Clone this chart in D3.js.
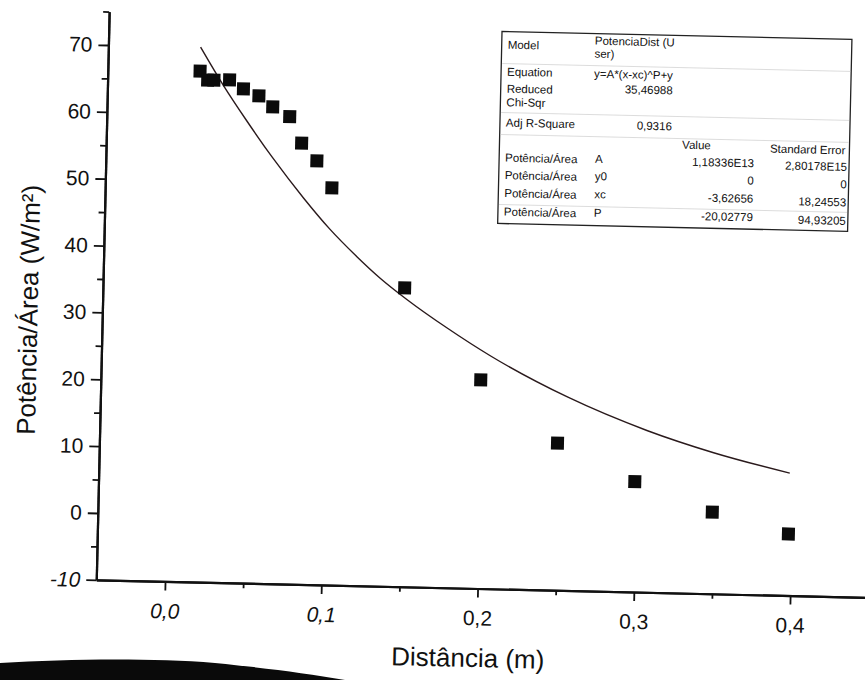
<!DOCTYPE html>
<html>
<head>
<meta charset="utf-8">
<script src="https://cdn.jsdelivr.net/npm/d3@7"></script>
<style>
  body { margin: 0; background: #fff; }
  svg { font-family: "Liberation Sans", Arial, sans-serif; }
</style>
</head>
<body>
<div id="chart"></div>
<script>
'use strict'

// measured points (distance in m, power/area in W/m2)
var distancia = [0.015, 0.020, 0.024, 0.034, 0.043, 0.053, 0.062, 0.073, 0.081, 0.091, 0.101, 0.149, 0.199, 0.249, 0.299, 0.349, 0.398];
var potencia = [66.4, 65.1, 65.1, 65.2, 63.9, 62.9, 61.3, 59.9, 56.0, 53.4, 49.4, 34.7, 21.2, 12.0, 6.5, 2.2, -0.8];

// fitted curve
var fitX = [0.015, 0.030, 0.046, 0.063, 0.083, 0.100, 0.118, 0.133, 0.151, 0.177, 0.205, 0.255, 0.306, 0.349, 0.398];
var fitY = [70.0, 64.4, 59.0, 53.6, 47.8, 43.3, 39.2, 36.1, 32.9, 28.8, 24.8, 18.9, 14.2, 11.1, 8.3];

var xTicks = [0.0, 0.1, 0.2, 0.3, 0.4];
var xTickLabels = ['0,0', '0,1', '0,2', '0,3', '0,4'];
var xMinor = [0.05, 0.15, 0.25, 0.35, 0.45];
var yTicks = [-10, 0, 10, 20, 30, 40, 50, 60, 70];
var yMinor = [-5, 5, 15, 25, 35, 45, 55, 65, 75];

// fit report box
var modelText = ['PotenciaDist (U', 'ser)'];
var equationText = 'y=A*(x-xc)^P+y';
var chiSqr = '35,46988';
var adjR2 = '0,9316';
var paramSeries = 'Potência/Área';
var paramNames = ['A', 'y0', 'xc', 'P'];
var paramValues = ['1,18336E13', '0', '-3,62656', '-20,02779'];
var paramErrors = ['2,80178E15', '0', '18,24553', '94,93205'];

var FONT = '"Liberation Sans", Arial, sans-serif';
var WIDTH = 865, HEIGHT = 680;

var svg = d3.select('#chart').append('svg')
  .attr('width', WIDTH).attr('height', HEIGHT);

svg.append('rect').attr('width', WIDTH).attr('height', HEIGHT).attr('fill', '#fff');

// the photographed sheet sits slightly rotated
var g = svg.append('g').attr('transform', 'rotate(1.3,432,340)');

var x = d3.scaleLinear().domain([-0.044, 0.45]).range([101.8, 874]);
var y = d3.scaleLinear().domain([-10, 75]).range([587.4, 19]);

// AXES
var xAxis = g.append('g')
  .attr('transform', 'translate(0,' + y(-10) + ')')
  .call(d3.axisBottom(x).tickValues(xTicks).tickSize(9).tickSizeOuter(0).tickPadding(13)
    .tickFormat(function (d, i) { return xTickLabels[i]; }));
g.append('g')
  .attr('transform', 'translate(0,' + y(-10) + ')')
  .call(d3.axisBottom(x).tickValues(xMinor).tickSize(5).tickSizeOuter(0).tickFormat(''));

var yAxis = g.append('g')
  .attr('transform', 'translate(' + x(-0.044) + ',0)')
  .call(d3.axisLeft(y).tickValues(yTicks).tickSize(10).tickSizeOuter(0).tickPadding(6)
    .tickFormat(function (d) { return String(d); }));
g.append('g')
  .attr('transform', 'translate(' + x(-0.044) + ',0)')
  .call(d3.axisLeft(y).tickValues(yMinor).tickSize(6).tickSizeOuter(0).tickFormat(''));

g.selectAll('.domain').attr('stroke', '#111').attr('stroke-width', 2.2);
g.selectAll('.tick line').attr('stroke', '#111').attr('stroke-width', 1.8);

xAxis.attr('font-family', FONT).selectAll('text')
  .attr('font-size', '21px').attr('fill', '#111')
  .style('font-style', function (d) { return d < 0.15 ? 'italic' : 'normal'; });
yAxis.attr('font-family', FONT).selectAll('text')
  .attr('font-size', '21px').attr('fill', '#111')
  .style('font-style', function (d) { return d < 0 ? 'italic' : 'normal'; });

// axis titles
g.append('text')
  .attr('x', 475).attr('y', 666)
  .attr('text-anchor', 'middle')
  .attr('font-size', '26px').attr('fill', '#111')
  .text('Distância (m)');

g.append('text')
  .attr('transform', 'translate(37,319) rotate(-90)')
  .attr('text-anchor', 'middle')
  .attr('font-size', '26px').attr('fill', '#111')
  .text('Potência/Área (W/m²)');

// FIT CURVE
var fitData = fitX.map(function (d, i) { return { x: d, y: fitY[i] }; });
g.append('path')
  .datum(fitData)
  .attr('d', d3.line()
    .x(function (d) { return x(d.x); })
    .y(function (d) { return y(d.y); })
    .curve(d3.curveMonotoneX))
  .attr('fill', 'none')
  .attr('stroke', '#2a1a1c')
  .attr('stroke-width', 1.4);

// DATA POINTS
var pts = distancia.map(function (d, i) { return { x: d, y: potencia[i] }; });
g.selectAll('.pt')
  .data(pts)
  .enter()
  .append('path')
  .attr('class', 'pt')
  .attr('transform', function (d) { return 'translate(' + x(d.x) + ',' + y(d.y) + ')'; })
  .attr('d', d3.symbol().type(d3.symbolSquare).size(169))
  .attr('fill', '#0b0b0b');

// REPORT BOX
var box = g.append('g').attr('font-size', '11.5px').attr('fill', '#111');
box.append('rect')
  .attr('x', 495).attr('y', 30).attr('width', 350).attr('height', 192)
  .attr('fill', '#fff').attr('stroke', '#222').attr('stroke-width', 1.3);

[62, 111, 133, 203].forEach(function (ly) {
  box.append('line')
    .attr('x1', 496).attr('x2', 844).attr('y1', ly).attr('y2', ly)
    .attr('stroke', '#d4d4d4').attr('stroke-width', 0.8);
});

function txt(tx, ty, s, anchor) {
  box.append('text').attr('x', tx).attr('y', ty)
    .attr('text-anchor', anchor || 'start').text(s);
}

txt(501, 47, 'Model');
txt(588, 41, modelText[0]);
txt(588, 54, modelText[1]);
txt(501, 74, 'Equation');
txt(588, 74, equationText);
txt(501, 91, 'Reduced');
txt(501, 104.5, 'Chi-Sqr');
txt(667, 89, chiSqr, 'end');
txt(501, 125, 'Adj  R-Square');
txt(667, 125, adjR2, 'end');
txt(692, 143, 'Value', 'middle');
txt(841, 145, 'Standard Error', 'end');

var rowY = [160, 177.5, 195.5, 214];
paramNames.forEach(function (p, i) {
  txt(501, rowY[i], paramSeries);
  txt(591, rowY[i] - 1, p);
  txt(750, rowY[i], paramValues[i], 'end');
  txt(843, rowY[i] + 1.5, paramErrors[i], 'end');
});

// dark shadow of the table edge at the bottom of the photo
svg.append('path')
  .attr('d', 'M0,663 C70,659 150,658 215,663 C265,668 305,673 345,680 L0,680 Z')
  .attr('fill', '#0a0a0a');
</script>
</body>
</html>
